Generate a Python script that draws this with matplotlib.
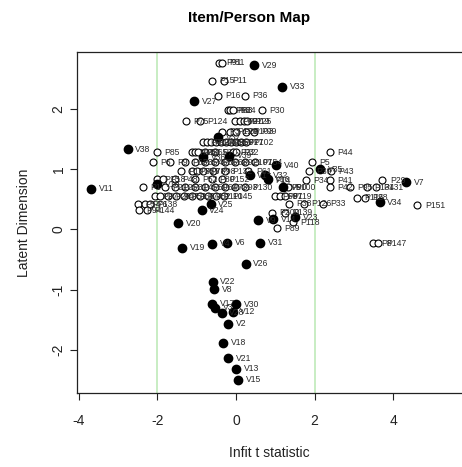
import matplotlib
matplotlib.use("Agg")
import matplotlib.pyplot as plt

plt.rcParams["font.family"] = ["Liberation Sans", "DejaVu Sans"]
plt.rcParams["axes.unicode_minus"] = False

# items (filled dots): name, infit t, location
item_names = ["V29", "V33", "V27", "V38", "V11", "V37", "V36", "V39", "V40", "V35",
              "V32", "V16", "V5", "V10", "V1", "V7", "V34", "V25", "V24", "V20",
              "V19", "V4", "V6", "V31", "V9", "V14", "V23", "V26", "V22", "V8",
              "V17", "V3", "V30", "V28", "V12", "V2", "V18", "V21", "V13", "V15"]
item_infit = [0.46, 1.17, -1.07, -2.75, -3.69, -0.46, -0.84, -0.18, 1.02, 2.14,
              0.74, 0.81, 1.20, -2.01, 0.35, 4.33, 3.66, -0.64, -0.87, -1.47,
              -1.37, -0.61, -0.23, 0.61, 0.56, 0.94, 1.50, 0.25, -0.59, -0.56,
              -0.61, -0.53, 0.0, -0.36, -0.08, -0.20, -0.33, -0.20, 0.0, 0.05]
item_loc = [2.73, 2.37, 2.13, 1.33, 0.68, 1.53, 1.20, 1.22, 1.07, 1.00,
            0.90, 0.83, 0.70, 0.75, 0.90, 0.78, 0.45, 0.42, 0.32, 0.10,
            -0.30, -0.24, -0.22, -0.22, 0.15, 0.17, 0.20, -0.57, -0.87, -0.99,
            -1.23, -1.30, -1.24, -1.38, -1.37, -1.57, -1.88, -2.14, -2.31, -2.50]

# persons (open circles)
person_names = ["P91", "P81", "P15", "P11", "P16", "P36", "P30", "P58", "P83", "P24",
                "P75", "P124", "P62", "P97", "P125", "P19",
                "P3", "P120", "P20", "P103", "P99",
                "P4", "P12", "P27", "P40", "P49", "P55", "P60", "P71", "P77", "P102",
                "P85", "P17", "P23", "P57", "P65", "P70", "P22", "P32",
                "P6", "P9", "P63", "P35", "P46", "P56", "P68", "P92", "P107", "P154",
                "P10", "P37", "P59", "P78", "P98", "P132", "P61", "P39", "P43", "P44", "P5",
                "P13", "P18", "P48", "P52", "P80", "P152", "P14", "P34", "P41", "P29",
                "P1", "P21", "P25", "P31", "P45", "P50", "P64", "P73", "P93", "P130",
                "P90", "P100", "P42", "P95", "P134", "P131",
                "P2", "P7", "P26", "P47", "P51", "P66", "P74", "P82", "P110", "P145",
                "P69", "P87", "P119", "P116", "P28",
                "P54", "P76", "P138", "P94", "P144", "P38", "P126", "P33", "P151",
                "P200", "P139", "P118", "P89", "P8", "P147"]
person_infit = [-0.43, -0.36, -0.61, -0.30, -0.46, 0.23, 0.66, -0.20, -0.15, -0.08,
                -1.27, -0.92, -0.03, 0.10, 0.20, 0.28,
                -0.36, -0.15, 0.0, 0.25, 0.46,
                -0.84, -0.74, -0.64, -0.51, -0.38, -0.25, -0.13, 0.0, 0.13, 0.25,
                -2.01, -1.12, -1.04, -0.97, -0.79, -0.53, -0.08, 0.0,
                -2.11, -1.68, -1.30, -1.04, -0.79, -0.53, -0.28, -0.03, 0.23, 0.48,
                -1.40, -1.12, -0.99, -0.84, -0.59, -0.28, 0.31, 1.86, 2.42, 2.39, 1.93,
                -2.01, -1.86, -1.55, -1.04, -0.61, -0.36, 0.81, 1.78, 2.39, 3.72,
                -2.37, -1.81, -1.55, -1.30, -1.04, -0.79, -0.53, -0.28, -0.03, 0.23,
                1.22, 1.32, 2.39, 2.90, 3.33, 3.56,
                -2.06, -1.93, -1.73, -1.53, -1.32, -1.12, -0.92, -0.71, -0.51, -0.30,
                0.99, 1.12, 1.25, 3.08, 3.28,
                -2.49, -2.32, -2.19, -2.47, -2.26, 1.35, 1.73, 2.21, 4.61,
                0.92, 1.25, 1.45, 1.04, 3.49, 3.62]
person_loc = [2.77, 2.77, 2.47, 2.47, 2.22, 2.22, 1.98, 1.98, 1.98, 1.98,
              1.80, 1.80, 1.80, 1.80, 1.80, 1.80,
              1.62, 1.62, 1.62, 1.62, 1.62,
              1.45, 1.45, 1.45, 1.45, 1.45, 1.45, 1.45, 1.45, 1.45, 1.45,
              1.28, 1.28, 1.28, 1.28, 1.28, 1.28, 1.28, 1.28,
              1.12, 1.12, 1.12, 1.12, 1.12, 1.12, 1.12, 1.12, 1.12, 1.12,
              0.97, 0.97, 0.97, 0.97, 0.97, 0.97, 0.97, 0.97, 0.97, 1.28, 1.12,
              0.83, 0.83, 0.83, 0.83, 0.83, 0.83, 0.82, 0.82, 0.82, 0.82,
              0.70, 0.70, 0.70, 0.70, 0.70, 0.70, 0.70, 0.70, 0.70, 0.70,
              0.70, 0.70, 0.70, 0.70, 0.70, 0.70,
              0.55, 0.55, 0.55, 0.55, 0.55, 0.55, 0.55, 0.55, 0.55, 0.55,
              0.55, 0.55, 0.55, 0.53, 0.53,
              0.42, 0.42, 0.42, 0.32, 0.32, 0.43, 0.43, 0.43, 0.40,
              0.28, 0.28, 0.12, 0.02, -0.23, -0.23]

fig = plt.figure(figsize=(4.62, 4.67), dpi=100)
ax = fig.add_axes([0.166, 0.158, 0.834, 0.731])

label_kw = dict(textcoords="offset points", xytext=(5.5, 0), ha="left", va="center",
                fontsize=6.2, color="#2a2a2a")

ax.axvline(-2, color="#c4ecbe", lw=1.3, zorder=0)
ax.axvline(2, color="#c4ecbe", lw=1.3, zorder=0)

ax.plot(person_infit, person_loc, "o", ms=5, mfc="white", mec="black", mew=0.8, ls="none")
for n, x, y in zip(person_names, person_infit, person_loc):
    ax.annotate(n, (x, y), **label_kw)

ax.plot(item_infit, item_loc, "o", ms=6, color="black", ls="none")
for n, x, y in zip(item_names, item_infit, item_loc):
    ax.annotate(n, (x, y), **label_kw)

ax.set_xlim(-4.05, 5.75)
ax.set_ylim(-2.72, 2.95)
ax.set_xticks([-4, -2, 0, 2, 4])
ax.set_yticks([-2, -1, 0, 1, 2])
ax.tick_params(direction="out", length=5, labelsize=10, colors="#222222")
ax.tick_params(axis="x", pad=10)
ax.tick_params(axis="y", pad=3)
for lab in ax.get_yticklabels():
    lab.set_rotation(90)
    lab.set_va("center")
for s in ax.spines.values():
    s.set_color("#222222")
    s.set_linewidth(0.9)
ax.spines["right"].set_visible(False)

fig.text(0.54, 0.961, "Item/Person Map", ha="center", va="center",
         fontsize=11, fontweight="bold")
ax.set_xlabel("Infit t statistic", fontsize=10, color="#222222", labelpad=13)
ax.set_ylabel("Latent Dimension", fontsize=10, color="#222222", labelpad=15)

fig.savefig("out.png", dpi=100)
